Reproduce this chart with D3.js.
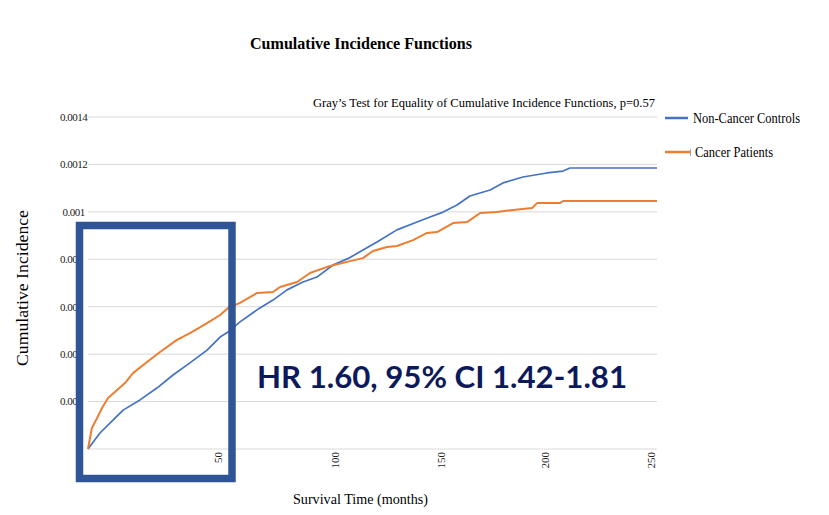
<!DOCTYPE html>
<html><head><meta charset="utf-8">
<script src="https://cdn.jsdelivr.net/npm/d3@7"></script>
<style>body{margin:0;background:#fff}svg{display:block}</style>
</head><body>
<svg id="c" width="829" height="515"></svg>
<script>
const title = "Cumulative Incidence Functions";
const subtitle = "Gray\u2019s Test for Equality of Cumulative Incidence Functions, p=0.57";
const seriesNames = ["Non-Cancer Controls", "Cancer Patients"];
const annotation = "HR 1.60, 95% CI 1.42-1.81";
const yTicks = [0, 0.0002, 0.0004, 0.0006, 0.0008, 0.001, 0.0012, 0.0014];
const yTickLabels = ["", "0.0002", "0.0004", "0.0006", "0.0008", "0.001", "0.0012", "0.0014"];
const xTicks = [50, 100, 150, 200, 250];

const controlMonths = [0,4.6,9.6,13.5,20,26.5,32.7,39.2,45.8,50.9,54.3,59.4,67.9,73.5,79.5,86.3,92.3,99.1,106.6,113.2,119.8,129.2,138.7,144.8,151,157.7,163.9,173.6,179.8,189.4,200.9,208.5,211.8,253];
const controlValues = [0,0.0000675,0.000122,0.000164,0.000207,0.000257,0.000312,0.000363,0.000417,0.000472,0.000493,0.000536,0.000595,0.000628,0.000671,0.000704,0.000725,0.000776,0.000805,0.000839,0.000873,0.000924,0.000957,0.000978,0.000999,0.001029,0.001067,0.001092,0.001122,0.001147,0.001164,0.001172,0.001185,0.001185];

const cancerMonths = [0,1.5,3.5,5.4,7.7,11.2,14.2,17.3,22.7,27.7,34.2,39.2,45.8,50.9,54.3,59.4,66.7,73.5,76.5,83.8,89.3,97.9,105.7,113.2,117.9,124.5,129.2,136.8,143.4,148.1,155.8,162.5,168.8,176.9,184.6,193.8,196.2,207.1,208.5,253];
const cancerValues = [0,0.0000886,0.000131,0.000173,0.000215,0.000249,0.000278,0.000320,0.000367,0.000409,0.000460,0.000489,0.000531,0.000565,0.000595,0.000616,0.000658,0.000662,0.000683,0.000704,0.000742,0.000772,0.000789,0.000805,0.000835,0.000852,0.000856,0.000881,0.000911,0.000915,0.000953,0.000957,0.000995,0.000999,0.001008,0.001016,0.001037,0.001037,0.001046,0.001046];

const colors = ["#4472c4", "#ed7d31"];

const svg = d3.select("#c");
const serif = "'Liberation Serif','Times New Roman',serif";

// category-like (non-uniform) x axis as in the original
const x = d3.scaleLinear().domain([0,50,100,150,200,250,253]).range([88,218,335,441,545,651,657]);
const y = d3.scaleLinear().domain([0, 0.0014]).range([449, 117]);

// clip so labels are hidden behind the highlight box
const defs = svg.append("defs");
const cp = defs.append("clipPath").attr("id", "ylabClip");
cp.append("rect").attr("x", 0).attr("y", 0).attr("width", 829).attr("height", 222);
cp.append("rect").attr("x", 0).attr("y", 0).attr("width", 76).attr("height", 515);

// gridlines
svg.append("g").selectAll("line").data(yTicks).join("line")
  .attr("x1", x(0)).attr("x2", x(253))
  .attr("y1", d => y(d)).attr("y2", d => y(d))
  .attr("stroke", "#d9d9d9").attr("stroke-width", 1);

// y labels
svg.append("g").attr("clip-path", "url(#ylabClip)")
  .selectAll("text").data(yTicks).join("text")
  .attr("x", 73.5).attr("y", d => y(d)).attr("dy", "0.35em")
  .attr("text-anchor", "middle")
  .style("font-family", serif).style("font-size", "11px").style("letter-spacing", "-0.5px")
  .attr("fill", "#222")
  .text((d, i) => yTickLabels[i]);

// x labels
svg.append("g").selectAll("text").data(xTicks).join("text")
  .attr("transform", d => `translate(${x(d)},452) rotate(-90)`)
  .attr("dy", "0.35em").attr("text-anchor", "end")
  .style("font-family", serif).style("font-size", "11px").attr("fill", "#222")
  .text(d => d);

// lines
const line = d3.line().x(d => x(d[0])).y(d => y(d[1]));
const series = [
  d3.zip(controlMonths, controlValues),
  d3.zip(cancerMonths, cancerValues)
];
svg.append("g").selectAll("path").data(series).join("path")
  .attr("d", line).attr("fill", "none")
  .attr("stroke", (d, i) => colors[i]).attr("stroke-width", (d, i) => i === 0 ? 1.7 : 2)
  .attr("stroke-linejoin", "round");

// title
svg.append("text").attr("x", 250).attr("y", 49)
  .style("font-family", serif).style("font-size", "17px").style("font-weight", "bold")
  .attr("textLength", 222).attr("lengthAdjust", "spacingAndGlyphs")
  .text(title);

// subtitle
svg.append("text").attr("x", 313).attr("y", 107)
  .style("font-family", serif).style("font-size", "13.5px")
  .attr("textLength", 342).attr("lengthAdjust", "spacingAndGlyphs")
  .text(subtitle);

// legend
const legY = [118, 152];
const lg = svg.append("g");
lg.selectAll("line.l").data(seriesNames).join("line").attr("class", "l")
  .attr("x1", 665).attr("x2", (d, i) => i === 0 ? 688 : 690)
  .attr("y1", (d, i) => legY[i]).attr("y2", (d, i) => legY[i])
  .attr("stroke", (d, i) => colors[i]).attr("stroke-width", 2.5);
lg.append("line").attr("x1", 690.5).attr("x2", 690.5).attr("y1", 149).attr("y2", 156)
  .attr("stroke", "#888").attr("stroke-width", 0.8);
lg.selectAll("text").data(seriesNames).join("text")
  .attr("x", (d, i) => i === 0 ? 693 : 695).attr("y", (d, i) => legY[i] + 5)
  .style("font-family", serif).style("font-size", "14.5px")
  .attr("textLength", (d, i) => i === 0 ? 107 : 78).attr("lengthAdjust", "spacingAndGlyphs")
  .text(d => d);

// axis titles
svg.append("text").attr("transform", "translate(28,288) rotate(-90)")
  .attr("text-anchor", "middle")
  .style("font-family", serif).style("font-size", "16.5px")
  .attr("textLength", 156).attr("lengthAdjust", "spacingAndGlyphs")
  .text("Cumulative Incidence");
svg.append("text").attr("x", 293).attr("y", 504)
  .style("font-family", serif).style("font-size", "14px")
  .attr("textLength", 135).attr("lengthAdjust", "spacingAndGlyphs")
  .text("Survival Time (months)");

// highlight box (drawn over the chart)
svg.append("rect").attr("x", x(0) - 8.5).attr("y", 225.5)
  .attr("width", 152.5).attr("height", 253)
  .attr("fill", "none").attr("stroke", "#2f5597").attr("stroke-width", 7.5);

// annotation
svg.append("text").attr("x", 257).attr("y", 388)
  .style("font-family", "Lato, 'Open Sans', sans-serif").style("font-size", "30px").style("font-weight", "bold")
  .attr("fill", "#0c1a5c")
  .attr("textLength", 370).attr("lengthAdjust", "spacingAndGlyphs")
  .text(annotation);
</script>
</body></html>
